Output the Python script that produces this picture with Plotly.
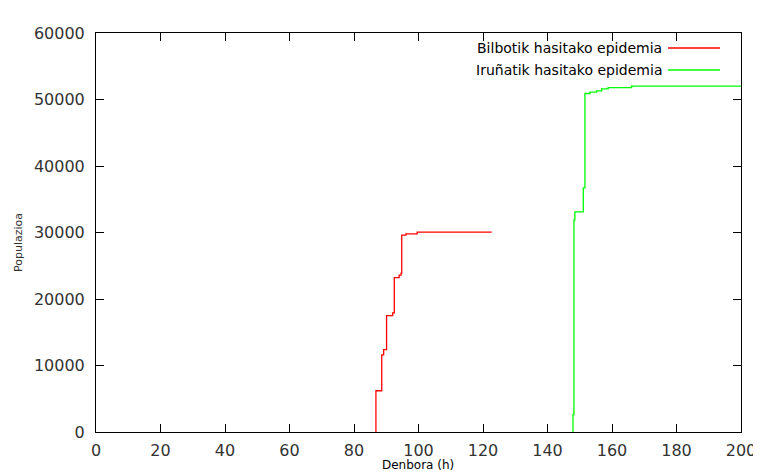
import plotly.graph_objects as go

# Data (time in hours, population)
red_t = [86.7, 86.8, 88.6, 89.2, 90.1, 92.0, 92.5, 94.0, 94.6, 94.8, 96.1, 99.6, 122.7]
red_p = [0, 6200, 11600, 12400, 17500, 17900, 23200, 23600, 23900, 29600, 29800, 30050, 30050]

green_t = [147.8, 147.9, 148.2, 148.5, 151.1, 151.6, 153.2, 155.2, 156.8, 158.8, 166.1, 200]
green_p = [0, 2600, 31900, 33100, 36700, 50900, 51100, 51300, 51600, 51800, 52000, 52000]

names = ["Bilbotik hasitako epidemia", "Iruñatik hasitako epidemia"]
colors = ["#ff0000", "#00ff00"]

x_ticks = list(range(0, 201, 20))
y_ticks = list(range(0, 60001, 10000))

# the page body adds an 8px offset; size the figure so the plot area lands where the reference has it
W, H = 753, 464
L, R, T, B = 88, 20, 25, 40
PW = W - L - R
PH = H - T - B

fig = go.Figure()
fig.add_trace(go.Scatter(x=red_t, y=red_p, mode="lines", line_shape="hv",
                         line=dict(color=colors[0], width=1.3), name=names[0]))
fig.add_trace(go.Scatter(x=green_t, y=green_p, mode="lines", line_shape="hv",
                         line=dict(color=colors[1], width=1.3), name=names[1]))

font = dict(family="DejaVu Sans", size=16, color="#333333")
axis_common = dict(showgrid=False, zeroline=False, showline=True, linecolor="#000000",
                   linewidth=1, mirror="allticks", ticks="inside", ticklen=8,
                   tickcolor="#000000", tickwidth=1, tickfont=font)

fig.update_layout(
    width=W, height=H,
    margin=dict(l=L, r=R, t=T, b=B, autoexpand=False),
    paper_bgcolor="white", plot_bgcolor="white",
    showlegend=False,
    xaxis=dict(range=[0, 200], tickvals=x_ticks, ticktext=[str(v) for v in x_ticks],
               ticklabelstandoff=4, **axis_common),
    yaxis=dict(range=[0, 60000], tickvals=y_ticks, ticktext=[str(v) for v in y_ticks],
               ticklabelstandoff=7, **axis_common),
)

# axis titles
fig.add_annotation(text="Denbora (h)", xref="paper", yref="paper", x=(418 - 96) / PW, y=0,
                   yshift=-33, showarrow=False, xanchor="center", yanchor="middle",
                   font=dict(family="DejaVu Sans", size=12, color="#000000"))
fig.add_annotation(text="Populazioa", xref="paper", yref="paper", x=0, y=(432 - 243) / PH,
                   xshift=-78, showarrow=False, textangle=-90, xanchor="center", yanchor="middle",
                   font=dict(family="DejaVu Sans", size=11, color="#333333"))

# legend (text on left, sample on right, gnuplot style)
leg_y = [48, 70]
for i in range(2):
    yp = 1 - (leg_y[i] - 33) / PH
    fig.add_annotation(text=names[i], xref="paper", yref="paper", x=(664 - 96) / PW, y=yp,
                       showarrow=False, xanchor="right", yanchor="middle",
                       font=dict(family="DejaVu Sans", size=14, color="#000000"))
    fig.add_shape(type="line", xref="paper", yref="paper",
                  x0=(668 - 96) / PW, x1=(720 - 96) / PW, y0=yp, y1=yp,
                  line=dict(color=colors[i], width=1.3))

fig.write_html("out.html")
